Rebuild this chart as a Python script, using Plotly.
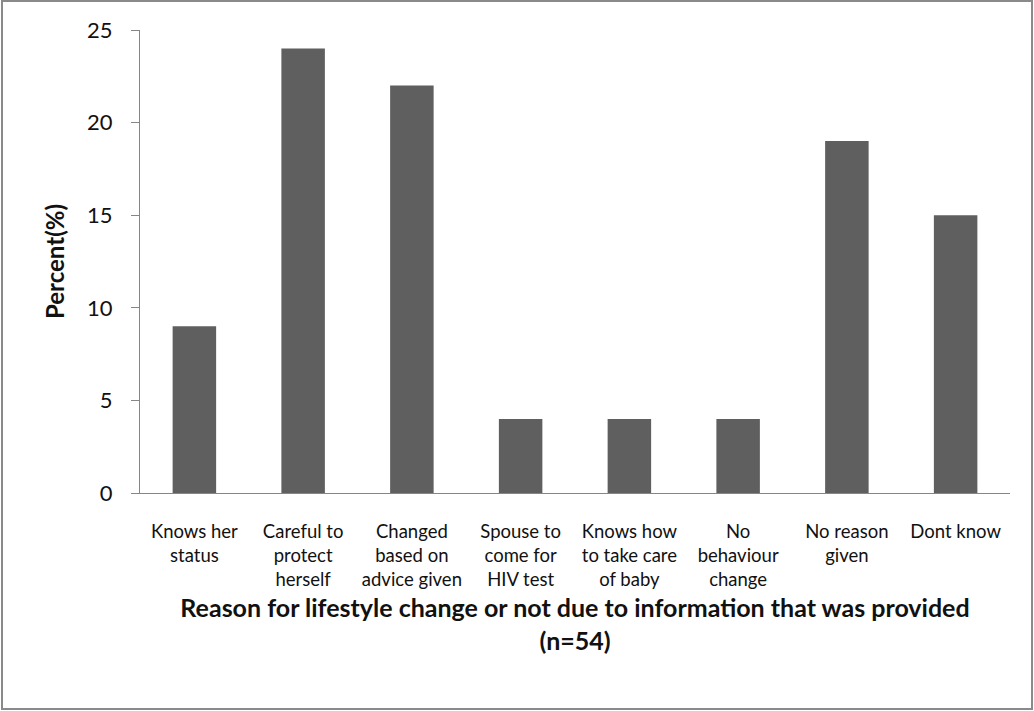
import plotly.graph_objects as go

categories = ["Knows her<br>status", "Careful to<br>protect<br>herself", "Changed<br>based on<br>advice given",
              "Spouse to<br>come for<br>HIV test", "Knows how<br>to take care<br>of baby", "No<br>behaviour<br>change",
              "No reason<br>given", "Dont know"]
values = [9, 24, 22, 4, 4, 4, 19, 15]
y_ticks = [0, 5, 10, 15, 20, 25]

W, H = 1034, 711
L, R, T, B = 140, 24, 30, 218
pw, ph = W - L - R, H - T - B

FONT = "Lato, 'Open Sans', sans-serif"

fig = go.Figure(go.Bar(x=categories, y=values, marker=dict(color="#5f5f5f", line=dict(width=0)), width=0.4))

fig.update_layout(
    width=W, height=H,
    margin=dict(l=L, r=R, t=T, b=B),
    paper_bgcolor="white", plot_bgcolor="white",
    showlegend=False,
    font=dict(family=FONT, color="#111111"),
    xaxis=dict(showline=True, linecolor="#868686", linewidth=1, ticks="", showgrid=False,
               tickfont=dict(size=18.5, family=FONT), ticklabelstandoff=22, tickangle=0,
               title=dict(text="<b>Reason for lifestyle change or not due to information that was provided<br>(n=54)</b>",
                          font=dict(size=25, family=FONT), standoff=10)),
    yaxis=dict(range=[0, 25], tickvals=y_ticks, showline=True, linecolor="#868686", linewidth=1,
               ticks="outside", ticklen=8, tickcolor="#868686", showgrid=False, zeroline=False,
               tickfont=dict(size=22, family=FONT), ticklabelstandoff=14,
               title=dict(text="<b>Percent(%)</b>", font=dict(size=24, family=FONT), standoff=15)),
)

fig.add_shape(type="rect", xref="paper", yref="paper",
              x0=(2 - L) / pw, x1=(W - 2 - L) / pw,
              y0=(T + ph - (H - 2)) / ph, y1=(T + ph - 1) / ph,
              line=dict(color="#8a8a8a", width=2), fillcolor="rgba(0,0,0,0)", layer="below")

fig.write_html("out.html")
